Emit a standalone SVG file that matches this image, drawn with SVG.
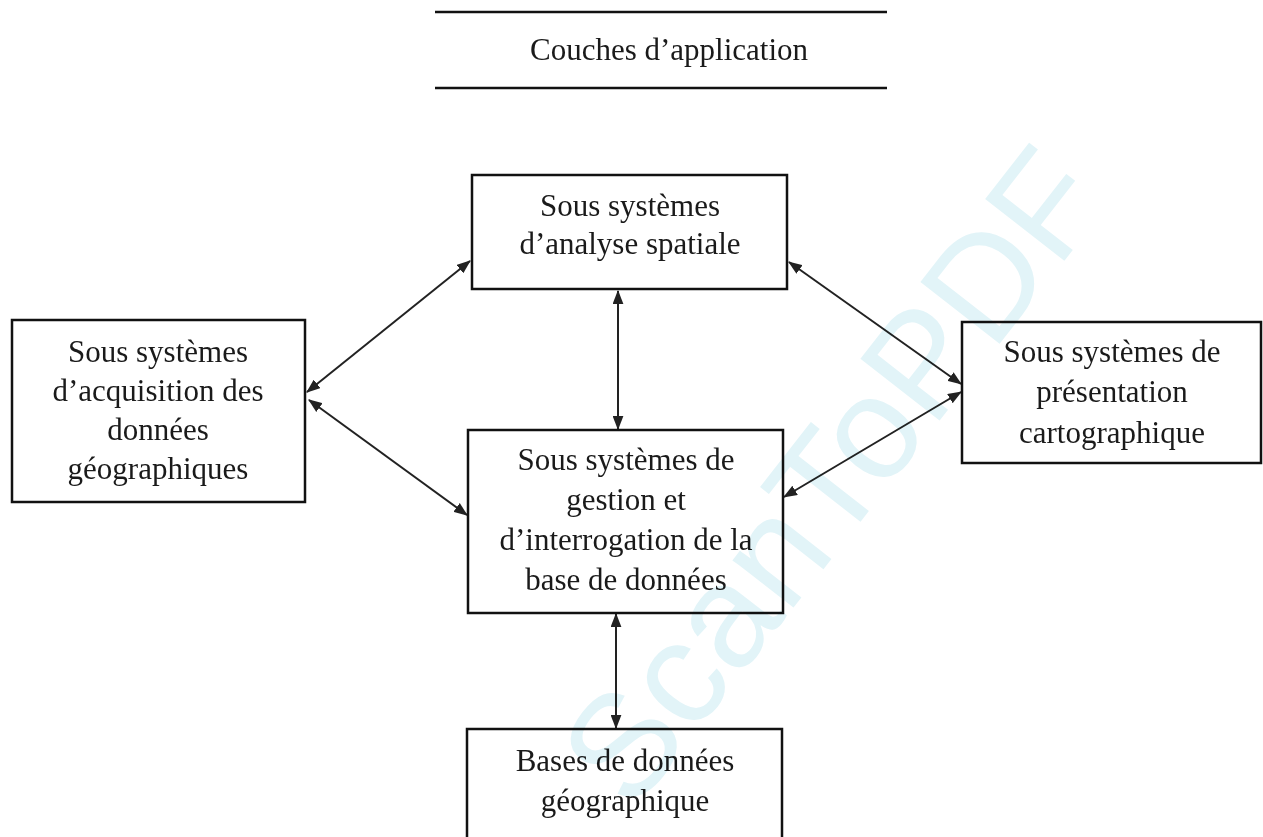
<svg xmlns="http://www.w3.org/2000/svg" width="1263" height="837" viewBox="0 0 1263 837">
  <defs>
    <style>
      .box { fill: #ffffff; stroke: #111111; stroke-width: 2.5; }
      .lbl { font-family: "Liberation Serif", "Times New Roman", serif; font-size: 31px; fill: #1a1a1a; text-anchor: middle; }
      .conn { stroke: #222222; stroke-width: 2; fill: none; marker-start: url(#ah); marker-end: url(#ah); }
      .rule { stroke: #111111; stroke-width: 2.5; }
      .wm { font-family: "Liberation Sans", Arial, sans-serif; font-size: 146px; fill: #e2f4f8; mix-blend-mode: multiply; }
    </style>
    <marker id="ah" viewBox="0 0 13 10" refX="12" refY="5" markerWidth="14" markerHeight="11" markerUnits="userSpaceOnUse" orient="auto-start-reverse">
      <path d="M0,0 L13,5 L0,10 Z" fill="#222222"/>
    </marker>
  </defs>
  <rect width="1263" height="837" fill="#ffffff"/>

  <g id="title">
    <line class="rule" x1="435" y1="12" x2="887" y2="12"/>
    <text class="lbl" x="669" y="60">Couches d’application</text>
    <line class="rule" x1="435" y1="88" x2="887" y2="88"/>
  </g>

  <g id="connectors">
    <line class="conn" x1="307" y1="392" x2="470" y2="261"/>
    <line class="conn" x1="309" y1="400" x2="467" y2="515"/>
    <line class="conn" x1="618" y1="291" x2="618" y2="429"/>
    <line class="conn" x1="789" y1="262" x2="961" y2="384"/>
    <line class="conn" x1="961" y1="392" x2="784" y2="497"/>
    <line class="conn" x1="616" y1="614" x2="616" y2="728"/>
  </g>

  <g id="analyse">
    <rect class="box" x="472" y="175" width="315" height="114"/>
    <text class="lbl" x="630" y="216">Sous systèmes</text>
    <text class="lbl" x="630" y="254">d’analyse spatiale</text>
  </g>

  <g id="acquisition">
    <rect class="box" x="12" y="320" width="293" height="182"/>
    <text class="lbl" x="158" y="362">Sous systèmes</text>
    <text class="lbl" x="158" y="401">d’acquisition des</text>
    <text class="lbl" x="158" y="440">données</text>
    <text class="lbl" x="158" y="479">géographiques</text>
  </g>

  <g id="presentation">
    <rect class="box" x="962" y="322" width="299" height="141"/>
    <text class="lbl" x="1112" y="362">Sous systèmes de</text>
    <text class="lbl" x="1112" y="402">présentation</text>
    <text class="lbl" x="1112" y="443">cartographique</text>
  </g>

  <g id="gestion">
    <rect class="box" x="468" y="430" width="315" height="183"/>
    <text class="lbl" x="626" y="470">Sous systèmes de</text>
    <text class="lbl" x="626" y="510">gestion et</text>
    <text class="lbl" x="626" y="550">d’interrogation de la</text>
    <text class="lbl" x="626" y="590">base de données</text>
  </g>

  <g id="bases">
    <rect class="box" x="467" y="729" width="315" height="120"/>
    <text class="lbl" x="625" y="771">Bases de données</text>
    <text class="lbl" x="625" y="811">géographique</text>
  </g>

  <g id="watermark">
    <text class="wm" x="1112" y="200" text-anchor="end" transform="rotate(-52 1112 200)">ScanToPDF</text>
  </g>
</svg>
